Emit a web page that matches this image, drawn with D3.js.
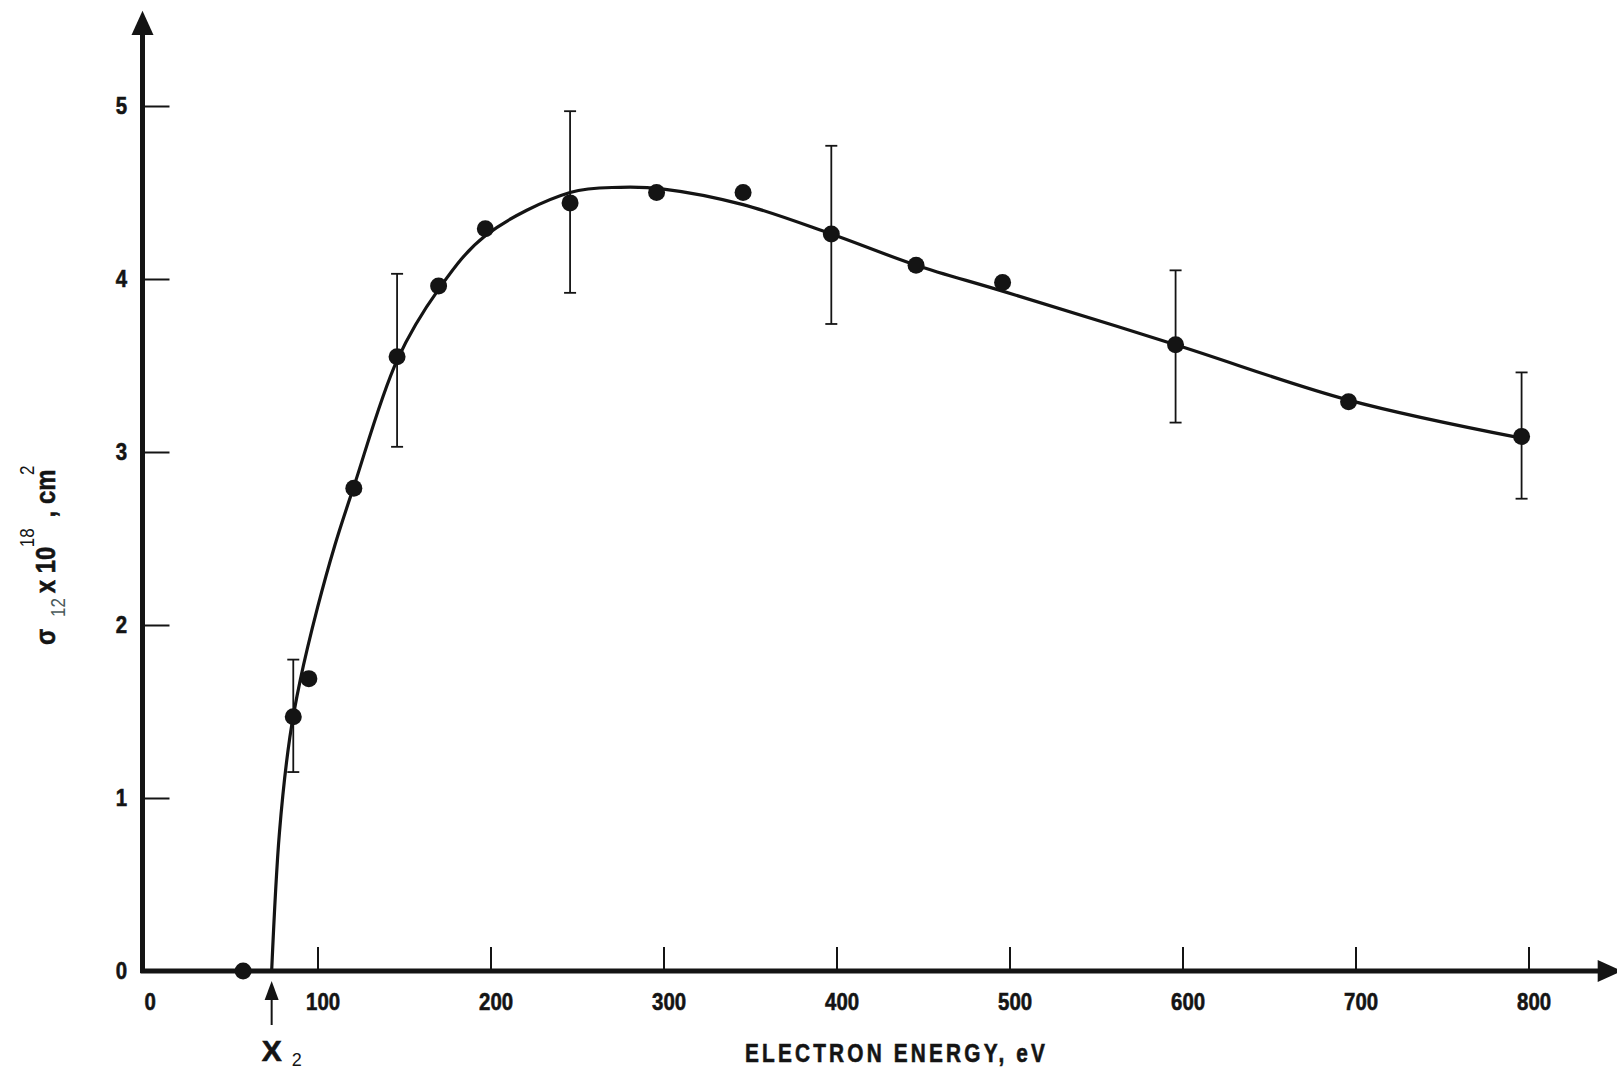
<!DOCTYPE html>
<html>
<head>
<meta charset="utf-8">
<script src="https://cdn.jsdelivr.net/npm/d3@7"></script>
<style>
  html, body { margin: 0; padding: 0; background: #fff; }
  svg { display: block; }
  .lbl { font-family: "Liberation Sans", Arial, sans-serif; font-weight: bold; fill: #141414; stroke: #141414; stroke-width: 0.6; }
  .thin { font-family: "Liberation Sans", Arial, sans-serif; font-weight: normal; stroke: none; }
</style>
</head>
<body>
<div id="chart"></div>
<script>
// measured cross sections (eV, 1e-18 cm^2)
const energy = [57, 86, 95, 121, 146, 170, 197, 246, 296, 346, 397, 446, 496, 596, 696, 796];
const sigma  = [0, 1.47, 1.69, 2.79, 3.55, 3.96, 4.29, 4.44, 4.50, 4.50, 4.26, 4.08, 3.98, 3.62, 3.29, 3.09];

// error bars on some of the points
const errEnergy = [86, 146, 246, 397, 596, 796];
const errLow    = [1.15, 3.03, 3.92, 3.74, 3.17, 2.73];
const errHigh   = [1.80, 4.03, 4.97, 4.77, 4.05, 3.46];

// smooth curve drawn through the data
const fitEnergy = [73.5, 78, 84, 90, 100, 110, 121, 146, 170, 197, 246, 275, 300, 346, 397, 446, 496, 596, 696, 796];
const fitSigma  = [0, 0.8, 1.35, 1.68, 2.1, 2.46, 2.8, 3.53, 3.94, 4.25, 4.50, 4.53, 4.52, 4.43, 4.26, 4.08, 3.93, 3.62, 3.30, 3.08];

const xTicks = [0, 100, 200, 300, 400, 500, 600, 700, 800];
const yTicks = [0, 1, 2, 3, 4, 5];
const threshold = 73.5;   // X2 arrow

var width = 1617, height = 1073;
var squeeze = 0.85;   // the printed lettering is condensed

var x = d3.scaleLinear().domain([0, 800]).range([144.5, 1528.5]);
var y = d3.scaleLinear().domain([0, 5]).range([971, 106]);

var svg = d3.select("#chart").append("svg")
    .attr("width", width)
    .attr("height", height);

var ink = "#141414";

// x axis ticks + labels
var gx = svg.append("g")
    .attr("transform", "translate(0," + y(0) + ")")
    .call(d3.axisBottom(x).tickValues(xTicks).tickSize(-24).tickPadding(22).tickFormat(d3.format("d")));
gx.select(".domain").remove();
gx.selectAll(".tick line").attr("stroke", ink).attr("stroke-width", 2)
    .filter(function(d) { return d === 0; }).remove();
gx.selectAll(".tick text").attr("class", "lbl").attr("font-size", 24)
    .attr("dx", 6).attr("transform", "scale(" + squeeze + ",1)");

// y axis ticks + labels
var gy = svg.append("g")
    .attr("transform", "translate(" + (x(0) - 2) + ",0)")
    .call(d3.axisLeft(y).tickValues(yTicks).tickSize(-27).tickPadding(18).tickFormat(d3.format("d")));
gy.select(".domain").remove();
gy.selectAll(".tick line").attr("stroke", ink).attr("stroke-width", 2)
    .filter(function(d) { return d === 0; }).remove();
gy.selectAll(".tick text").attr("class", "lbl").attr("font-size", 24)
    .attr("transform", "scale(" + squeeze + ",1)");

// heavy axis lines with arrow heads
var x0 = x(0) - 2;
svg.append("line")
    .attr("x1", x0).attr("x2", x0)
    .attr("y1", y(0) + 2).attr("y2", y(5.45))
    .attr("stroke", ink).attr("stroke-width", 5);
svg.append("path")
    .attr("d", "M" + x0 + "," + y(5.55) + "L" + (x0 - 11) + "," + y(5.41) + "L" + (x0 + 11) + "," + y(5.41) + "Z")
    .attr("fill", ink);

svg.append("line")
    .attr("x1", x0 - 2).attr("x2", x(842))
    .attr("y1", y(0)).attr("y2", y(0))
    .attr("stroke", ink).attr("stroke-width", 5);
svg.append("path")
    .attr("d", "M" + x(854) + "," + y(0) + "L" + x(840) + "," + (y(0) - 11) + "L" + x(840) + "," + (y(0) + 11) + "Z")
    .attr("fill", ink);

// fitted curve
var fit = fitEnergy.map(function(e, i) { return [e, fitSigma[i]]; });
var line = d3.line()
    .x(function(d) { return x(d[0]); })
    .y(function(d) { return y(d[1]); })
    .curve(d3.curveCatmullRom.alpha(0.5));
svg.append("path")
    .attr("d", line(fit))
    .attr("fill", "none")
    .attr("stroke", ink)
    .attr("stroke-width", 3.2);

// error bars
var errs = errEnergy.map(function(e, i) { return {e: e, lo: errLow[i], hi: errHigh[i]}; });
var eg = svg.append("g").attr("stroke", ink).attr("stroke-width", 1.8);
eg.selectAll("line.bar").data(errs).enter().append("line")
    .attr("x1", function(d) { return x(d.e); }).attr("x2", function(d) { return x(d.e); })
    .attr("y1", function(d) { return y(d.lo); }).attr("y2", function(d) { return y(d.hi); });
eg.selectAll("line.top").data(errs).enter().append("line")
    .attr("x1", function(d) { return x(d.e) - 6; }).attr("x2", function(d) { return x(d.e) + 6; })
    .attr("y1", function(d) { return y(d.hi); }).attr("y2", function(d) { return y(d.hi); });
eg.selectAll("line.bot").data(errs).enter().append("line")
    .attr("x1", function(d) { return x(d.e) - 6; }).attr("x2", function(d) { return x(d.e) + 6; })
    .attr("y1", function(d) { return y(d.lo); }).attr("y2", function(d) { return y(d.lo); });

// data points
svg.selectAll("circle.pt")
    .data(energy.map(function(e, i) { return [e, sigma[i]]; }))
    .enter().append("circle")
    .attr("cx", function(d) { return x(d[0]); })
    .attr("cy", function(d) { return y(d[1]); })
    .attr("r", 8.5)
    .attr("fill", ink);

// threshold arrow (X2)
var xt = x(threshold);
svg.append("line")
    .attr("x1", xt).attr("x2", xt)
    .attr("y1", y(0) + 54).attr("y2", y(0) + 26)
    .attr("stroke", ink).attr("stroke-width", 2);
svg.append("path")
    .attr("d", "M" + xt + "," + (y(0) + 10) + "L" + (xt - 7) + "," + (y(0) + 29) + "L" + (xt + 7) + "," + (y(0) + 29) + "Z")
    .attr("fill", ink);
var xl = svg.append("text").attr("class", "lbl")
    .attr("x", xt - 10).attr("y", 1061)
    .attr("font-size", 30);
xl.append("tspan").text("X");
xl.append("tspan").attr("class", "thin").attr("font-size", 18).attr("dx", 10).attr("dy", 5).text("2");

// x axis title
svg.append("text").attr("class", "lbl")
    .attr("transform", "translate(745,1062) scale(0.8,1)")
    .attr("font-size", 26)
    .attr("textLength", 300 / 0.8)
    .attr("lengthAdjust", "spacing")
    .text("ELECTRON ENERGY, eV");

// y axis title (rotated)
var yt = svg.append("text").attr("class", "lbl")
    .attr("transform", "translate(55,645) rotate(-90) scale(" + squeeze + ",1)")
    .attr("font-size", 28);
yt.append("tspan").attr("x", 0).attr("y", 0).text("σ");
yt.append("tspan").attr("class", "thin").attr("fill", "#4a5a5a").attr("font-size", 20).attr("x", 33).attr("y", 10).text("12");
yt.append("tspan").attr("x", 61).attr("y", 0).text("x 10");
yt.append("tspan").attr("class", "thin").attr("font-size", 20).attr("x", 115).attr("y", -21).text("18");
yt.append("tspan").attr("x", 150).attr("y", 0).text(",");
yt.append("tspan").attr("x", 166).attr("y", 0).text("cm");
yt.append("tspan").attr("class", "thin").attr("font-size", 20).attr("x", 200).attr("y", -21).text("2");
</script>
</body>
</html>
